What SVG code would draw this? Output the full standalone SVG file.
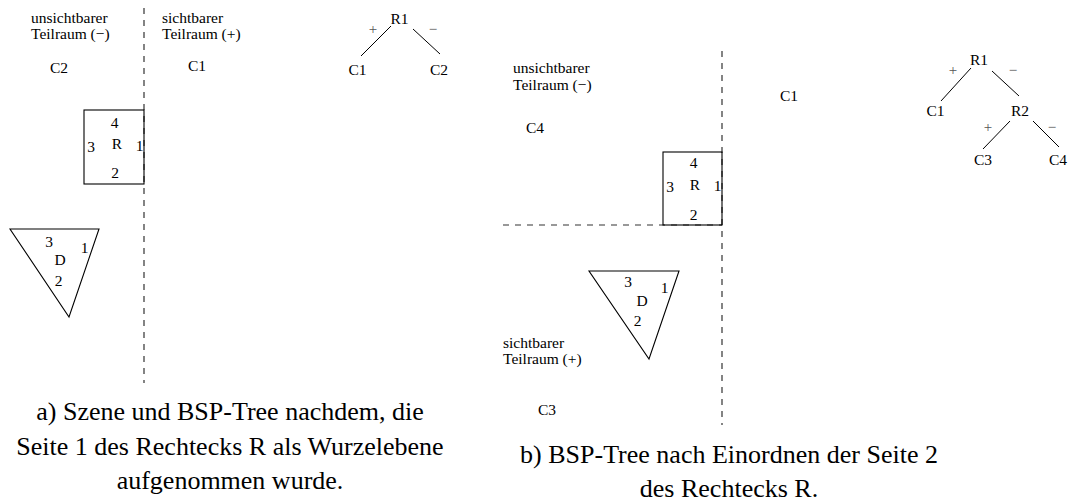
<svg xmlns="http://www.w3.org/2000/svg" width="1074" height="502" viewBox="0 0 1074 502">
<style>
text{font-family:"Liberation Serif","Times New Roman",serif;fill:#000}
.s{font-size:15.5px}
.m{text-anchor:middle}
.sg{font-size:15px;text-anchor:middle;fill:#555}
.cap{font-size:26px;text-anchor:middle}
.sh{fill:none;stroke:#000;stroke-width:1.1}
.dash{fill:none;stroke:#333;stroke-width:1.2;stroke-dasharray:6 6}
.edge{fill:none;stroke:#000;stroke-width:1}
</style>
<rect width="1074" height="502" fill="#fff"/>

<g id="panel-a">
  <g id="a-planes">
    <line class="dash" x1="144" y1="8" x2="144" y2="383"/>
  </g>
  <g id="a-labels">
    <text class="s" x="31" y="23">unsichtbarer</text>
    <text class="s" x="31" y="39">Teilraum (−)</text>
    <text class="s" x="162" y="23">sichtbarer</text>
    <text class="s" x="162" y="39">Teilraum (+)</text>
    <text class="s" x="50" y="73">C2</text>
    <text class="s" x="188" y="71">C1</text>
  </g>
  <g id="a-rect-R">
    <rect class="sh" x="84" y="110" width="60" height="74"/>
    <text class="s m" x="114.5" y="128">4</text>
    <text class="s m" x="117" y="149">R</text>
    <text class="s m" x="91" y="152">3</text>
    <text class="s m" x="139.5" y="151">1</text>
    <text class="s m" x="115" y="178">2</text>
  </g>
  <g id="a-triangle-D">
    <polygon class="sh" points="10,229 99,229 69,317"/>
    <text class="s m" x="49" y="247">3</text>
    <text class="s m" x="84.5" y="253">1</text>
    <text class="s m" x="60" y="265">D</text>
    <text class="s m" x="58.5" y="286">2</text>
  </g>
  <g id="a-tree">
    <g id="a-connectors">
      <line class="edge" x1="391" y1="26" x2="361" y2="56"/>
      <line class="edge" x1="413" y1="29" x2="440" y2="54"/>
      <text class="sg" x="373" y="34">+</text>
      <text class="sg" x="433" y="34">−</text>
    </g>
    <g id="a-node-R1"><text class="s m" x="399.5" y="24">R1</text></g>
    <g id="a-node-C1"><text class="s m" x="357.5" y="75">C1</text></g>
    <g id="a-node-C2"><text class="s m" x="439" y="75">C2</text></g>
  </g>
  <g id="a-caption">
    <text class="cap" x="230" y="420">a) Szene und BSP-Tree nachdem, die</text>
    <text class="cap" x="230" y="455">Seite 1 des Rechtecks R als Wurzelebene</text>
    <text class="cap" x="230" y="489">aufgenommen wurde.</text>
  </g>
</g>

<g id="panel-b">
  <g id="b-planes">
    <line class="dash" x1="722" y1="51" x2="722" y2="425"/>
    <line class="dash" x1="503" y1="225" x2="722" y2="225"/>
  </g>
  <g id="b-labels">
    <text class="s" x="513" y="73">unsichtbarer</text>
    <text class="s" x="513" y="90">Teilraum (−)</text>
    <text class="s" x="526" y="133">C4</text>
    <text class="s" x="780" y="101">C1</text>
    <text class="s" x="503" y="348">sichtbarer</text>
    <text class="s" x="503" y="364">Teilraum (+)</text>
    <text class="s" x="538" y="415">C3</text>
  </g>
  <g id="b-rect-R">
    <rect class="sh" x="663" y="152" width="59" height="73"/>
    <text class="s m" x="693.5" y="168">4</text>
    <text class="s m" x="695" y="190">R</text>
    <text class="s m" x="670" y="192">3</text>
    <text class="s m" x="717.5" y="191">1</text>
    <text class="s m" x="693.5" y="220">2</text>
  </g>
  <g id="b-triangle-D">
    <polygon class="sh" points="589,271 679,271 649,359"/>
    <text class="s m" x="628" y="287">3</text>
    <text class="s m" x="664.5" y="293">1</text>
    <text class="s m" x="642" y="306">D</text>
    <text class="s m" x="637.5" y="326">2</text>
  </g>
  <g id="b-tree">
    <g id="b-connectors">
      <line class="edge" x1="971" y1="68" x2="941" y2="101"/>
      <line class="edge" x1="992" y1="71" x2="1019" y2="96"/>
      <line class="edge" x1="1010" y1="121" x2="983" y2="149"/>
      <line class="edge" x1="1033" y1="121" x2="1059" y2="147"/>
      <text class="sg" x="953" y="75">+</text>
      <text class="sg" x="1013" y="75">−</text>
      <text class="sg" x="988" y="132">+</text>
      <text class="sg" x="1052" y="132">−</text>
    </g>
    <g id="b-node-R1"><text class="s m" x="979" y="65">R1</text></g>
    <g id="b-node-C1"><text class="s m" x="935.5" y="116">C1</text></g>
    <g id="b-node-R2"><text class="s m" x="1020" y="116">R2</text></g>
    <g id="b-node-C3"><text class="s m" x="983" y="165">C3</text></g>
    <g id="b-node-C4"><text class="s m" x="1058" y="165">C4</text></g>
  </g>
  <g id="b-caption">
    <text class="cap" x="729" y="463">b) BSP-Tree nach Einordnen der Seite 2</text>
    <text class="cap" x="729" y="497">des Rechtecks R.</text>
  </g>
</g>
</svg>
